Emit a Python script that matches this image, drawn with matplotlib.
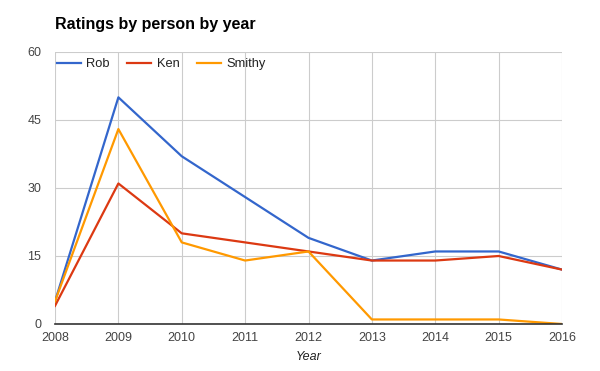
import matplotlib
matplotlib.use("Agg")
import matplotlib.pyplot as plt

years = [2008, 2009, 2010, 2011, 2012, 2013, 2014, 2015, 2016]
rob = [5, 50, 37, 28, 19, 14, 16, 16, 12]
ken = [4, 31, 20, 18, 16, 14, 14, 15, 12]
smithy = [5, 43, 18, 14, 16, 1, 1, 1, 0]
y_ticks = [0, 15, 30, 45, 60]

plt.rcParams['font.family'] = ['Liberation Sans', 'DejaVu Sans']

fig = plt.figure(figsize=(6, 3.71), dpi=100)
ax = fig.add_axes([55/600, 1-324/371, 507/600, 272/371])

ax.plot(years, rob, color='#3366cc', lw=1.6, label='Rob', zorder=3)
ax.plot(years, ken, color='#dc3912', lw=1.6, label='Ken', zorder=3)
ax.plot(years, smithy, color='#ff9900', lw=1.6, label='Smithy', zorder=3)

ax.set_xlim(2008, 2016)
ax.set_ylim(0, 60)
ax.set_xticks(years)
ax.set_yticks(y_ticks)
ax.grid(True, color='#cccccc', lw=0.8, zorder=0)
for s in ['top', 'right', 'left']:
    ax.spines[s].set_visible(False)
ax.spines['bottom'].set_color('#333333')
ax.spines['bottom'].set_linewidth(1.2)
ax.spines['bottom'].set_zorder(4)
ax.tick_params(length=0, labelsize=9, colors='#444444')
ax.tick_params(axis='y', pad=10)
ax.tick_params(axis='x', pad=6)
ax.set_xlabel('Year', fontsize=9, style='italic', color='#222222', labelpad=5)

leg = ax.legend(loc='upper left', bbox_to_anchor=(-0.012, 1.005), ncol=3, frameon=False,
          fontsize=9.3, handlelength=1.85, handletextpad=0.45, columnspacing=1.35,
          labelcolor='#222222', borderaxespad=0.2)

fig.text(55/600, 1-25/371, 'Ratings by person by year', fontsize=11.5, fontweight='bold',
         va='center', ha='left', color='#000000')

fig.savefig('out.png', dpi=100)
